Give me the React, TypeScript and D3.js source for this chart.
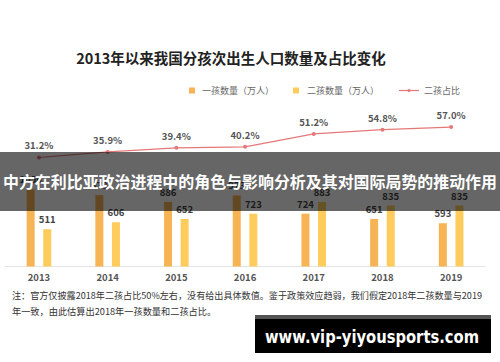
import React from "react";
import * as d3 from "d3";

const years = ["2013", "2014", "2015", "2016", "2017", "2018", "2019"];
const firstChild = [1056, 978, 886, 973, 724, 651, 593];
const secondChild = [511, 606, 652, 723, 883, 835, 835];
const secondShare = [31.2, 35.9, 39.4, 40.2, 51.2, 54.8, 57.0];

const title = "2013年以来我国分孩次出生人口数量及占比变化";
const legendLabels = ["一孩数量（万人）", "二孩数量（万人）", "二孩占比"];
const noteLines = [
  "注：官方仅披露2018年二孩占比50%左右，没有给出具体数值。鉴于政策效应趋弱，我们假定2018年二孩数量与2019",
  "年一致，由此估算出2018年一孩数量和二孩占比。",
];
const bannerText = "中方在利比亚政治进程中的角色与影响分析及其对国际局势的推动作用";
const watermark = "www.vip-yiyousports.com";

const W = 500;
const H = 362;
const FONT = "'Noto Sans CJK SC', 'Noto Sans', sans-serif";
const C1 = "#F6B455";
const C2 = "#FDCC5C";
const CL = "#E47878";

export default function App() {
  const x = d3.scaleBand<string>().domain(years).range([4.6, 485.5]).padding(0);
  const y = d3.scaleLinear().domain([0, 1500]).range([266.5, 266.5 - 1500 / 13.7]);
  const yp = d3.scaleLinear().domain([0, 100]).range([194.3, 76.3]);
  const cx = (yr: string) => (x(yr) as number) + x.bandwidth() / 2;
  const bw = 8;
  const off = 8.3;

  const line = d3
    .line<number>()
    .x((_, i) => cx(years[i]))
    .y((d) => yp(d));

  return (
    <svg
      width={W}
      height={H}
      style={{ position: "absolute", left: 0, top: 0, background: "#fff" }}
      fontFamily={FONT}
    >
      <rect x={0} y={0} width={W} height={H} fill="#fff" />
      <text x={231} y={64} textAnchor="middle" fontSize={14.5} fontWeight={700} fill="#222">
        {title}
      </text>

      {/* legend */}
      <g fontSize={9} fill="#666">
        <rect x={189} y={87.5} width={6} height={6} fill={C1} />
        <text x={202} y={94}>{legendLabels[0]}</text>
        <rect x={293} y={87.5} width={6} height={6} fill={C2} />
        <text x={307} y={94}>{legendLabels[1]}</text>
        <line x1={399} x2={419} y1={90.5} y2={90.5} stroke={CL} strokeWidth={1.2} />
        <circle cx={409} cy={90.5} r={1.6} fill={CL} />
        <text x={424} y={94}>{legendLabels[2]}</text>
      </g>

      {/* baseline */}
      <line x1={4.6} x2={485.5} y1={266.5} y2={266.5} stroke="#e4e4e4" strokeWidth={1} />

      {/* bars */}
      {years.map((yr, i) => (
        <g key={yr}>
          <rect x={cx(yr) - off - bw / 2} y={y(firstChild[i])} width={bw} height={y(0) - y(firstChild[i])} fill={C1} />
          <rect x={cx(yr) + off - bw / 2} y={y(secondChild[i])} width={bw} height={y(0) - y(secondChild[i])} fill={C2} />
          <text x={cx(yr) - off} y={y(firstChild[i]) - 6} textAnchor="middle" fontSize={9.5} fontWeight={600} fill="#444">
            {firstChild[i]}
          </text>
          <text x={cx(yr) + off} y={y(secondChild[i]) - 6} textAnchor="middle" fontSize={9.5} fontWeight={600} fill="#444">
            {secondChild[i]}
          </text>
          <text x={cx(yr)} y={280.5} textAnchor="middle" fontSize={9.5} fontWeight={600} fill="#555">
            {yr}
          </text>
        </g>
      ))}

      {/* share line */}
      <path d={line(secondShare) || ""} fill="none" stroke={CL} strokeWidth={1.2} />
      {secondShare.map((p, i) => (
        <g key={"p" + i}>
          <circle cx={cx(years[i])} cy={yp(p)} r={2} fill={CL} />
          <text x={cx(years[i])} y={yp(p) - 8} textAnchor="middle" fontSize={9.5} fontWeight={600} fill="#555">
            {p.toFixed(1) + "%"}
          </text>
        </g>
      ))}

      {/* note */}
      <g fontSize={9.2} fill="#333">
        <text x={12} y={298.5} textLength={470} lengthAdjust="spacingAndGlyphs">{noteLines[0]}</text>
        <text x={12} y={315}>{noteLines[1]}</text>
      </g>

      {/* banner overlay */}
      <rect x={0} y={152} width={W} height={59} fill="#000" opacity={0.6} />
      <text x={250} y={188} textAnchor="middle" fontSize={16} fontWeight={700} fill="#fff" textLength={494} lengthAdjust="spacingAndGlyphs">
        {bannerText}
      </text>

      {/* watermark */}
      <rect x={255} y={315} width={236} height={38} fill="#000" />
      <rect x={255} y={315} width={236} height={4} fill="#555" />
      <text x={265} y={343} fontFamily="'DejaVu Sans', sans-serif" fontSize={17} fontWeight={700} fill="#fff" textLength={214} lengthAdjust="spacingAndGlyphs">
        {watermark}
      </text>
    </svg>
  );
}
